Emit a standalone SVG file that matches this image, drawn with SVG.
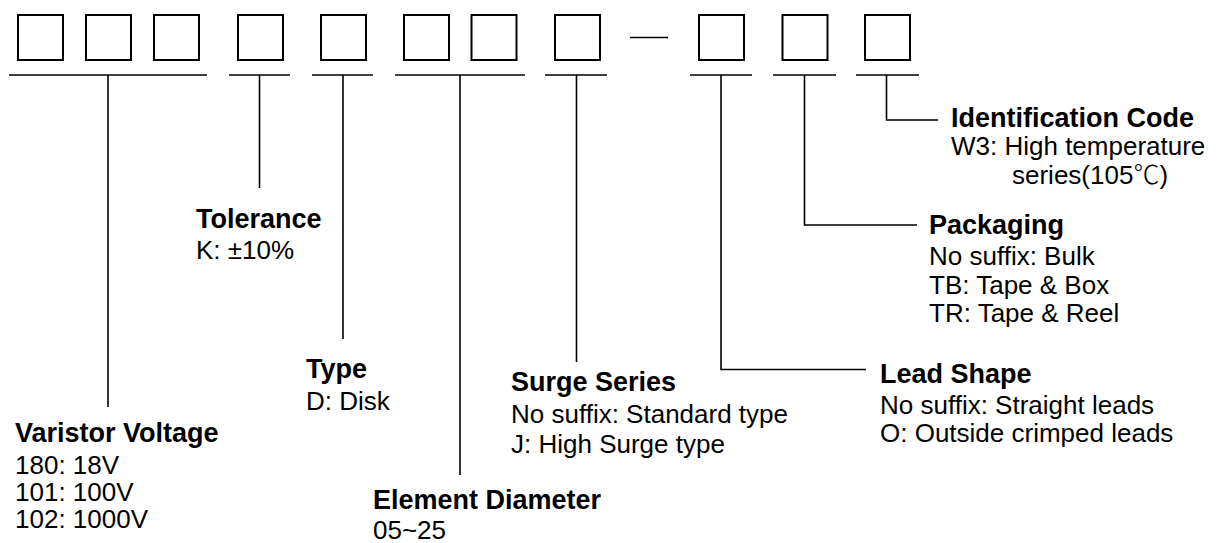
<svg xmlns="http://www.w3.org/2000/svg" width="1222" height="543" viewBox="0 0 1222 543">
<style>
.box{fill:none;stroke:#000;stroke-width:2}
.ln{fill:none;stroke:#000;stroke-width:1.6}
.t{font-family:"Liberation Sans",Arial,"Noto Sans CJK SC",sans-serif;font-size:26px;fill:#000}
.b{font-weight:bold;font-size:27px}
.cjk{font-family:"Noto Sans CJK SC",sans-serif;font-weight:300}
</style>
<rect width="1222" height="543" fill="#fff"/>
<g id="boxes">
<rect class="box" x="18" y="15" width="45" height="45"/>
<rect class="box" x="86" y="15" width="45" height="45"/>
<rect class="box" x="154" y="15" width="45" height="45"/>
<rect class="box" x="238" y="15" width="45" height="45"/>
<rect class="box" x="321" y="15" width="45" height="45"/>
<rect class="box" x="404" y="15" width="45" height="45"/>
<rect class="box" x="471.5" y="15" width="45" height="45"/>
<rect class="box" x="555" y="15" width="45" height="45"/>
<line class="ln" x1="630" y1="37.5" x2="668" y2="37.5"/>
<rect class="box" x="699" y="15" width="45" height="45"/>
<rect class="box" x="782.5" y="15" width="45" height="45"/>
<rect class="box" x="865" y="15" width="45" height="45"/>
</g>
<g id="connectors">
<line class="ln" x1="9" y1="75" x2="207" y2="75"/>
<line class="ln" x1="229" y1="75" x2="290" y2="75"/>
<line class="ln" x1="312" y1="75" x2="373" y2="75"/>
<line class="ln" x1="395" y1="75" x2="525" y2="75"/>
<line class="ln" x1="545" y1="75" x2="607" y2="75"/>
<line class="ln" x1="690" y1="75" x2="752" y2="75"/>
<line class="ln" x1="773" y1="75" x2="836" y2="75"/>
<line class="ln" x1="856" y1="75" x2="919" y2="75"/>
<line class="ln" x1="108" y1="75" x2="108" y2="407"/>
<line class="ln" x1="259.5" y1="75" x2="259.5" y2="188"/>
<line class="ln" x1="343" y1="75" x2="343" y2="339"/>
<line class="ln" x1="460" y1="75" x2="460" y2="475"/>
<line class="ln" x1="576.5" y1="75" x2="576.5" y2="362"/>
<polyline class="ln" points="721,75 721,369.5 866,369.5"/>
<polyline class="ln" points="804.5,75 804.5,225 917,225"/>
<polyline class="ln" points="886.5,75 886.5,120 938,120"/>
</g>
<g id="varistor-voltage">
<text class="t b" x="15" y="442">Varistor Voltage</text>
<text class="t" x="15" y="474">180: 18V</text>
<text class="t" x="15" y="501">101: 100V</text>
<text class="t" x="15" y="528">102: 1000V</text>
</g>
<g id="tolerance">
<text class="t b" x="196" y="228">Tolerance</text>
<text class="t" x="196" y="259">K: ±10%</text>
</g>
<g id="type">
<text class="t b" x="306" y="378">Type</text>
<text class="t" x="306" y="410">D: Disk</text>
</g>
<g id="element-diameter">
<text class="t b" x="373" y="509">Element Diameter</text>
<text class="t" x="373" y="539">05~25</text>
</g>
<g id="surge-series">
<text class="t b" x="511" y="391">Surge Series</text>
<text class="t" x="511" y="423">No suffix: Standard type</text>
<text class="t" x="511" y="453">J: High Surge type</text>
</g>
<g id="lead-shape">
<text class="t b" x="880" y="383">Lead Shape</text>
<text class="t" x="880" y="414">No suffix: Straight leads</text>
<text class="t" x="880" y="442">O: Outside crimped leads</text>
</g>
<g id="packaging">
<text class="t b" x="929" y="234">Packaging</text>
<text class="t" x="929" y="265">No suffix: Bulk</text>
<text class="t" x="929" y="294">TB: Tape &amp; Box</text>
<text class="t" x="929" y="322">TR: Tape &amp; Reel</text>
</g>
<g id="identification-code">
<text class="t b" x="951" y="127">Identification Code</text>
<text class="t" x="951" y="155">W3: High temperature</text>
<text class="t" x="1012" y="184">series(105<tspan class="cjk">℃</tspan>)</text>
</g>
</svg>
